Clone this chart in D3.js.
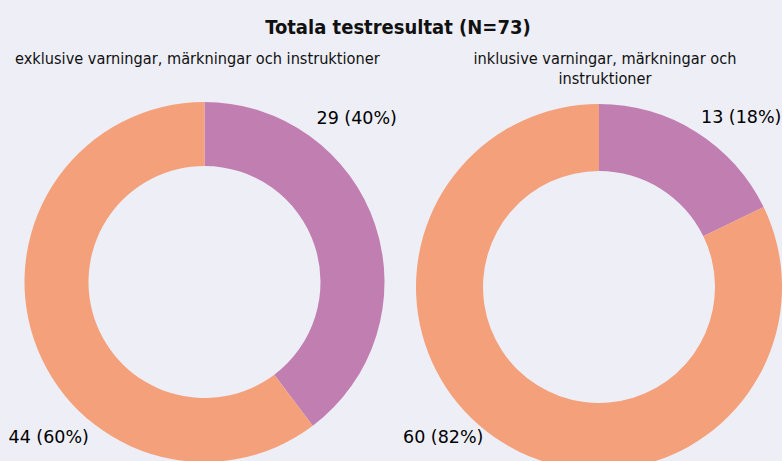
<!DOCTYPE html>
<html>
<head>
<meta charset="utf-8">
<script src="https://cdn.jsdelivr.net/npm/d3@7"></script>
<style>
  body { margin: 0; background: #edeef6; }
  svg { display: block; }
</style>
</head>
<body>
<svg id="chart" width="782" height="461"></svg>
<script>
// data
var categories = ["Underkänd", "Godkänd"];
var colors = ["#c17fb1", "#f4a07a"];
var exklusive = [29, 44];
var inklusive = [13, 60];
var total = 73;
var title = "Totala testresultat (N=73)";
var subLeft = ["exklusive varningar, märkningar och instruktioner"];
var subRight = ["inklusive varningar, märkningar och", "instruktioner"];

var narrow = "'Liberation Sans Narrow', 'DejaVu Sans Condensed', sans-serif";

var svg = d3.select("#chart");

svg.append("text")
  .attr("x", 398).attr("y", 34)
  .attr("text-anchor", "middle")
  .style("font-family", narrow)
  .style("font-weight", "bold")
  .style("font-size", "20px")
  .style("fill", "#111")
  .text(title);

var pie = d3.pie().sort(null).value(function(d){ return d; });

function donut(values, cx, cy, rOut, rIn, sub, subX, subAnchor, labelPos) {
  var arc = d3.arc().innerRadius(rIn).outerRadius(rOut);
  var g = svg.append("g").attr("transform", "translate(" + cx + "," + cy + ")");
  g.selectAll("path")
    .data(pie(values))
    .enter()
    .append("path")
    .attr("d", arc)
    .style("fill", function(d, i){ return colors[i]; });

  var st = svg.append("text")
    .attr("x", subX).attr("y", 64)
    .attr("text-anchor", subAnchor)
    .style("font-family", narrow)
    .style("font-size", "16.2px")
    .style("fill", "#111");
  sub.forEach(function(line, i){
    st.append("tspan").attr("x", subX).attr("dy", i == 0 ? 0 : 20).text(line);
  });

  values.forEach(function(v, i){
    var pct = Math.round(v / total * 100);
    svg.append("text")
      .attr("x", cx + labelPos[i][0]).attr("y", cy + labelPos[i][1])
      .style("font-family", "'DejaVu Sans', sans-serif")
      .style("font-size", "17.5px")
      .style("fill", "#000")
      .text(v + " (" + pct + "%)");
  });
}

donut(exklusive, 204.5, 282, 180, 116, subLeft, 15, "start", [[112, -158], [-196, 161]]);
donut(inklusive, 599, 287, 183, 116, subRight, 605, "middle", [[102, -164], [-196, 156]]);
</script>
</body>
</html>
